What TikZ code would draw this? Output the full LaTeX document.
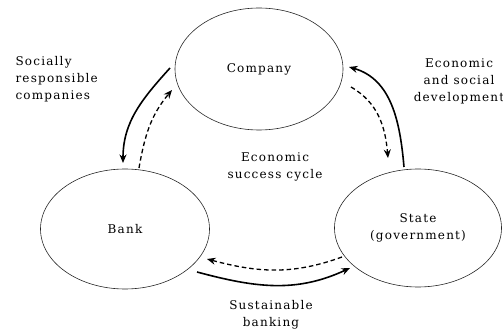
\documentclass[tikz,border=0pt]{standalone}
\usepackage{fontspec}
\setmainfont[LetterSpace=10]{DejaVu Serif}
\usetikzlibrary{calc,arrows.meta,shapes.geometric,positioning}

\begin{document}
\begin{tikzpicture}[x=1pt,y=1pt,font=\fontsize{12}{17}\selectfont]

\tikzset{
actor/.style={ellipse,draw=black!85,line width=0.6pt,inner sep=0pt},
flow/.style={-{Stealth[length=8.5pt,width=7pt]},line width=1.6pt},
back/.style={flow,line width=1.3pt,dash pattern=on 4.5pt off 3pt},
lbl/.style={align=center}
}

\useasboundingbox (0,0) rectangle (503,332);

% Nodes
\node[actor,minimum width=168pt,minimum height=122pt] (company) at (259,263) {Company};
\node[actor,minimum width=169pt,minimum height=120pt] (bank) at (125,103) {Bank};
\node[actor,minimum width=167pt,minimum height=118pt,align=center] (state) at (418,104) {State\\(government)};


% Arrows
\draw[flow] ($(company)+(-89,1)$) to[out=228,in=90] ($(bank)+(-2,66)$);
\draw[back] ($(bank)+(14,61)$) to[out=80,in=230] ($(company)+(-87,-21)$);

\draw[flow] ($(state)+(-14,61)$) to[out=95,in=-16] ($(company)+(90,2)$);
\draw[back] ($(company)+(92,-18)$) to[out=-30,in=95] ($(state)+(-30,70)$);

\draw[back] ($(state)+(-76,-29)$) to[out=200,in=-15] ($(bank)+(82,-30)$);
\draw[flow] ($(bank)+(72,-43)$) to[out=-15,in=205] ($(state)+(-68,-40)$);


% Labels
\node[lbl] (cycle) at (275,165.5) {Economic\\success cycle};
\node[lbl,anchor=west,align=left] (social) at (12,253) {Socially\\responsible\\companies};
\node[lbl] (develop) at (459,250.5) {Economic\\and social\\development};
\node[lbl] (banking) at (271,17.5) {Sustainable\\banking};

\end{tikzpicture}
\end{document}
